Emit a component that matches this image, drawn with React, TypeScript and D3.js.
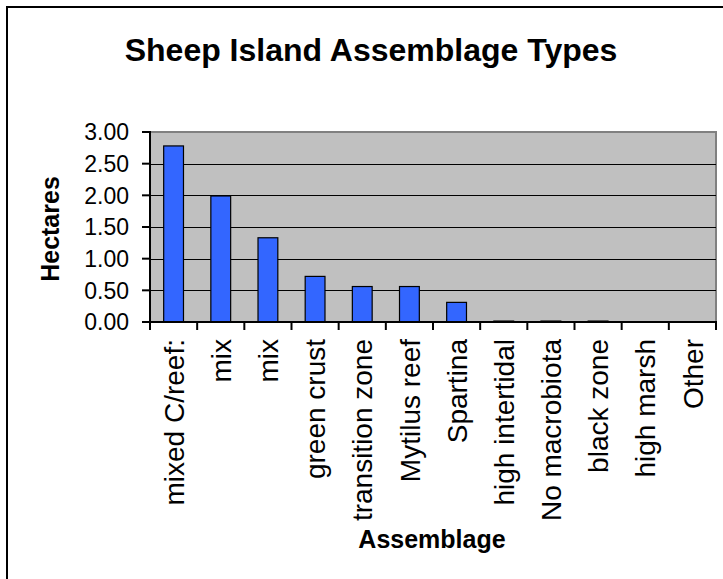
import { useEffect, useRef } from 'react';
import * as d3 from 'd3';

const categories = [
  'mixed C/reef:',
  'mix',
  'mix',
  'green crust',
  'transition zone',
  'Mytilus reef',
  'Spartina',
  'high intertidal',
  'No macrobiota',
  'black zone',
  'high marsh',
  'Other',
];
const hectares = [2.78, 1.99, 1.33, 0.72, 0.56, 0.56, 0.31, 0.015, 0.015, 0.015, 0, 0];
const yTicks = [0, 0.5, 1, 1.5, 2, 2.5, 3];

const W = 723;
const H = 579;
const plot = { left: 150, top: 132, right: 716, bottom: 322 };
const FONT = 'Arial, "Liberation Sans", sans-serif';

export default function App() {
  const svgRef = useRef<SVGSVGElement>(null);

  useEffect(() => {
    if (!svgRef.current) return;
    const svg = d3.select(svgRef.current);
    svg.selectAll('*').remove();

    const x = d3
      .scaleBand<number>()
      .domain(d3.range(categories.length))
      .range([plot.left, plot.right])
      .paddingInner(0.58)
      .paddingOuter(0.29);
    const y = d3.scaleLinear().domain([0, 3]).range([plot.bottom, plot.top]);
    const step = (plot.right - plot.left) / categories.length;

    // outer chart border (clipped on right/bottom)
    svg
      .append('rect')
      .attr('x', 7)
      .attr('y', 7)
      .attr('width', W + 20)
      .attr('height', H + 20)
      .attr('fill', 'white')
      .attr('stroke', 'black')
      .attr('stroke-width', 2);

    // plot background
    svg
      .append('rect')
      .attr('x', plot.left)
      .attr('y', plot.top)
      .attr('width', plot.right - plot.left)
      .attr('height', plot.bottom - plot.top)
      .attr('fill', '#c0c0c0')
      .attr('stroke', '#808080')
      .attr('stroke-width', 2);

    // gridlines
    svg
      .append('g')
      .selectAll('line')
      .data(yTicks.filter((t) => t > 0 && t < 3))
      .enter()
      .append('line')
      .attr('x1', plot.left)
      .attr('x2', plot.right)
      .attr('y1', (d) => Math.round(y(d)) + 0.5)
      .attr('y2', (d) => Math.round(y(d)) + 0.5)
      .attr('stroke', 'black')
      .attr('stroke-width', 1);

    // bars
    svg
      .append('g')
      .selectAll('rect')
      .data(hectares)
      .enter()
      .filter((d) => d > 0)
      .append('rect')
      .attr('x', (_, i) => x(i)!)
      .attr('y', (d) => y(d))
      .attr('width', x.bandwidth())
      .attr('height', (d) => y(0) - y(d))
      .attr('fill', '#3366ff')
      .attr('stroke', 'black')
      .attr('stroke-width', 1.2);

    // y axis
    const yAxis = svg.append('g');
    yAxis
      .append('line')
      .attr('x1', plot.left)
      .attr('x2', plot.left)
      .attr('y1', plot.top - 1)
      .attr('y2', plot.bottom + 1)
      .attr('stroke', 'black')
      .attr('stroke-width', 2);
    yAxis
      .selectAll('line.tick')
      .data(yTicks)
      .enter()
      .append('line')
      .attr('class', 'tick')
      .attr('x1', plot.left - 8)
      .attr('x2', plot.left)
      .attr('y1', (d) => y(d))
      .attr('y2', (d) => y(d))
      .attr('stroke', 'black')
      .attr('stroke-width', 2);
    yAxis
      .selectAll('text')
      .data(yTicks)
      .enter()
      .append('text')
      .attr('x', plot.left - 21)
      .attr('y', (d) => y(d))
      .attr('dy', '0.36em')
      .attr('text-anchor', 'end')
      .attr('font-family', FONT)
      .attr('font-size', 23)
      .text((d) => d3.format('.2f')(d));

    // x axis
    const xAxis = svg.append('g');
    xAxis
      .append('line')
      .attr('x1', plot.left - 1)
      .attr('x2', plot.right + 1)
      .attr('y1', plot.bottom)
      .attr('y2', plot.bottom)
      .attr('stroke', 'black')
      .attr('stroke-width', 2);
    xAxis
      .selectAll('line.tick')
      .data(d3.range(categories.length + 1))
      .enter()
      .append('line')
      .attr('class', 'tick')
      .attr('x1', (d) => plot.left + d * step)
      .attr('x2', (d) => plot.left + d * step)
      .attr('y1', plot.bottom)
      .attr('y2', plot.bottom + 8)
      .attr('stroke', 'black')
      .attr('stroke-width', 2);
    xAxis
      .selectAll('text')
      .data(categories)
      .enter()
      .append('text')
      .attr('transform', (_, i) => `translate(${x(i)! + x.bandwidth() / 2},${plot.bottom + 17}) rotate(-90)`)
      .attr('dy', '0.36em')
      .attr('text-anchor', 'end')
      .attr('font-family', FONT)
      .attr('font-size', 28)
      .text((d) => d);

    // titles
    svg
      .append('text')
      .attr('x', 371)
      .attr('y', 61)
      .attr('text-anchor', 'middle')
      .attr('font-family', FONT)
      .attr('font-weight', 'bold')
      .attr('font-size', 32)
      .text('Sheep Island Assemblage Types');
    svg
      .append('text')
      .attr('transform', `translate(59,229) rotate(-90)`)
      .attr('text-anchor', 'middle')
      .attr('font-family', FONT)
      .attr('font-weight', 'bold')
      .attr('font-size', 25)
      .text('Hectares');
    svg
      .append('text')
      .attr('x', 432)
      .attr('y', 548)
      .attr('text-anchor', 'middle')
      .attr('font-family', FONT)
      .attr('font-weight', 'bold')
      .attr('font-size', 25)
      .text('Assemblage');
  }, []);

  return (
    <svg
      ref={svgRef}
      width={W}
      height={H}
      style={{ position: 'absolute', left: 0, top: 0, display: 'block' }}
    />
  );
}
